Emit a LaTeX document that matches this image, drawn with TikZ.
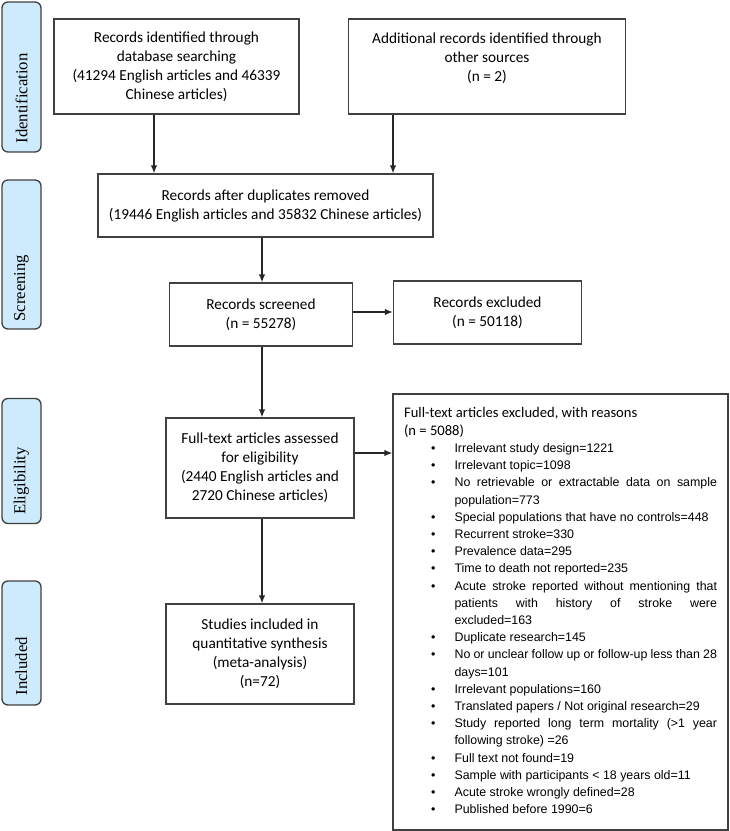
\documentclass[tikz,border=0pt]{standalone}
\usepackage{fontspec}
\setmainfont{Carlito}
\newfontfamily\carlito{Carlito}
\newfontfamily\arialf{Liberation Sans}
\newfontfamily\timesf{Liberation Serif}
\usetikzlibrary{arrows.meta}
\definecolor{linegray}{HTML}{404040}
\definecolor{barblue}{HTML}{CDEBFD}
\tikzset{
  box/.style={draw=linegray, line width=1.3pt, inner sep=0pt, align=center,
    font=\carlito\fontsize{15.3}{19}\selectfont},
  sidebar/.style={draw=linegray, line width=1.3pt, fill=barblue, rounded corners=6pt,
    minimum width=39pt, inner sep=0pt},
  barlabel/.style={rotate=90, anchor=west, inner sep=0pt,
    font=\timesf\fontsize{16.7}{20}\selectfont},
  arr/.style={draw=black!85, line width=1.3pt, -{Latex[length=8pt,width=6.5pt]}},
}
\begin{document}
\begin{tikzpicture}[x=1pt,y=-1pt]
\useasboundingbox (0,0) rectangle (730,831);

% side bars
\node[sidebar, minimum height=150pt] (idbar) at (21.5,77) {};
\node[barlabel] (idlab) at ([yshift=9pt]idbar.south) {Identification};
\node[sidebar, minimum height=149pt] (scbar) at (21.5,254.5) {};
\node[barlabel] (sclab) at ([yshift=8pt]scbar.south) {Screening};
\node[sidebar, minimum height=125pt] (elbar) at (21.5,461) {};
\node[barlabel] (ellab) at ([yshift=9pt]elbar.south) {Eligibility};
\node[sidebar, minimum height=124pt] (inbar) at (21.5,643) {};
\node[barlabel] (inlab) at ([yshift=10pt]inbar.south) {Included};

% boxes
\node[box, minimum width=245pt, minimum height=95pt] (A) at (176.5,66.5)
  {Records identified through\\database searching\\(41294 English articles and 46339\\Chinese articles)};
\node[box, minimum width=277pt, minimum height=95pt] (B) at (487,66.5)
  {Additional records identified through\\other sources\\(n = 2)\\\mbox{}};
\node[box, minimum width=335pt, minimum height=63pt] (C) at (265.5,205.5)
  {Records after duplicates removed\\(19446 English articles and 35832 Chinese articles)};
\node[box, minimum width=183pt, minimum height=63pt] (D) at (261,314.5)
  {Records screened\\(n = 55278)};
\node[box, minimum width=188pt, minimum height=63pt] (E) at (487.5,312.5)
  {Records excluded\\(n = 50118)};
\node[box, minimum width=188pt, minimum height=100pt] (F) at (260,468)
  {Full-text articles assessed\\for eligibility\\(2440 English articles and\\2720 Chinese articles)};
\node[box, minimum width=188pt, minimum height=100pt] (H) at (260,654)
  {Studies included in\\quantitative synthesis\\(meta-analysis)\\(n=72)};
\node[box, minimum width=335pt, minimum height=436pt] (G) at (560.5,612) {};

\node[anchor=north west, text width=313pt, inner sep=0pt, align=justify] (Gtext)
  at ([xshift=11.5pt,yshift=-14pt]G.north west)
  {\parindent=0pt\parskip=0pt\hyphenpenalty=10000\exhyphenpenalty=10000
   \carlito\fontsize{14.6}{17.6}\selectfont
   Full-text articles excluded, with reasons\par
   (n = 5088)\par
   \arialf\fontsize{12.4}{17.2}\selectfont
   \begin{list}{\textbullet}{\setlength{\leftmargin}{50.5pt}\setlength{\labelsep}{19pt}%
     \setlength{\labelwidth}{30pt}\setlength{\itemsep}{0pt}\setlength{\parsep}{0pt}%
     \setlength{\topsep}{0pt}\setlength{\partopsep}{0pt}}
   \item Irrelevant study design=1221
   \item Irrelevant topic=1098
   \item No retrievable or extractable data on sample\linebreak population=773
   \item Special populations that have no controls=448
   \item Recurrent stroke=330
   \item Prevalence data=295
   \item Time to death not reported=235
   \item Acute stroke reported without mentioning that\linebreak patients with history of stroke were\linebreak excluded=163
   \item Duplicate research=145
   \item No or unclear follow up or follow-up less than 28\linebreak days=101
   \item Irrelevant populations=160
   \item Translated papers / Not original research=29
   \item Study reported long term mortality (>1 year\linebreak following stroke) =26
   \item Full text not found=19
   \item Sample with participants < 18 years old=11
   \item Acute stroke wrongly defined=28
   \item Published before 1990=6
   \end{list}};

% connectors
\coordinate (ax) at (154,0);
\coordinate (bx) at (393,0);
\coordinate (cx) at (262,0);
\coordinate (dey) at (0,312);
\coordinate (fgy) at (0,453);
\draw[arr] (A.south -| ax) -- (C.north -| ax);
\draw[arr] (B.south -| bx) -- (C.north -| bx);
\draw[arr] (C.south -| cx) -- (D.north -| cx);
\draw[arr] (D.east |- dey) -- (E.west |- dey);
\draw[arr] (D.south -| cx) -- (F.north -| cx);
\draw[arr] (F.east |- fgy) -- (G.west |- fgy);
\draw[arr] (F.south -| cx) -- (H.north -| cx);
\end{tikzpicture}
\end{document}
